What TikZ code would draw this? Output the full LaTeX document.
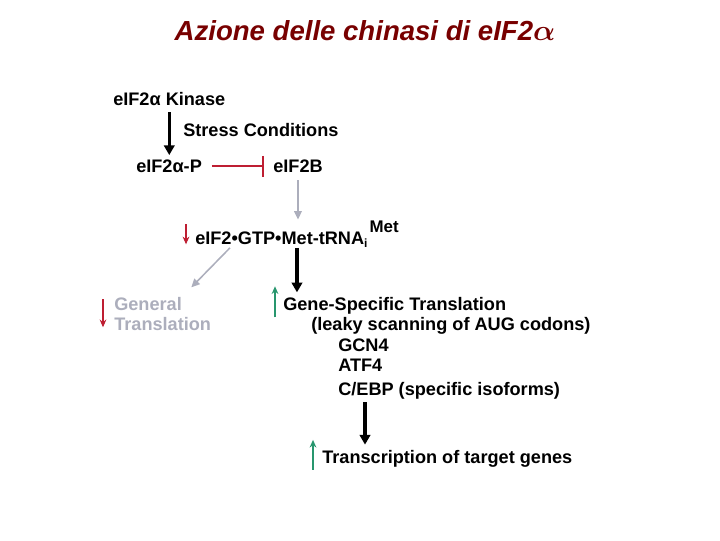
\documentclass[tikz,border=0pt]{standalone}
\usepackage{fontspec}
\setmainfont{Liberation Sans}
\definecolor{titlered}{RGB}{120,0,0}
\definecolor{downred}{RGB}{190,30,50}
\definecolor{upgreen}{RGB}{40,150,110}
\definecolor{fadegray}{RGB}{172,174,188}
\usetikzlibrary{arrows.meta,calc}

\begin{document}
\begin{tikzpicture}[x=0.025cm,y=-0.025cm,
  lbl/.style={anchor=base west,inner sep=0pt,align=left,
              font=\bfseries\fontsize{12.9}{14.2}\selectfont},
  mainarrow/.style={line width=2.2pt,-{Triangle[width=7.5pt,length=7pt]}},
  fadearrow/.style={draw=fadegray,line width=1.1pt,-{Triangle[width=5.5pt,length=6pt]}},
  inhibit/.style={draw=downred,line width=1.4pt,-{Bar[width=15pt]}},
  downind/.style={draw=downred,line width=0.8pt,-{Stealth[length=5.5pt,width=4.8pt]}},
  upind/.style={draw=upgreen,line width=0.8pt,-{Stealth[length=5.5pt,width=4.8pt]}}]
  \useasboundingbox (0,0) rectangle (720,540);
  % title
  \node[font=\bfseries\itshape\fontsize{19.6}{22}\selectfont,text=titlered,
        anchor=base] (title) at (365,40) {Azione delle chinasi di eIF2{\boldmath$\alpha$}};
  % labels
  \node[lbl] (kinase) at (113,105.6) {eIF2α Kinase};
  \node[lbl] (stress) at (183,136) {Stress Conditions};
  \node[lbl] (eif2p) at (136,172.7) {eIF2α-P};
  \node[lbl] (eif2b) at (273,172.7) {eIF2B};
  \node[lbl] (ternary) at (195,244)
        {eIF2•GTP•Met-tRNA{\fontsize{8.5}{9}\selectfont\raisebox{-2.5pt}{i}}\hspace{1.5pt}{\fontsize{12}{12}\selectfont\raisebox{8pt}{Met}}};
  \node[lbl,text=fadegray] (general) at (114,330.7) {General\\Translation};
  \node[lbl] (gst) at (283,310) {Gene-Specific Translation};
  \node[lbl] (leaky) at (311,330) {(leaky scanning of AUG codons)};
  \node[lbl] (gcn4) at (338,351.7) {GCN4};
  \node[lbl] (atf4) at (338,371.7) {ATF4};
  \node[lbl] (cebp) at (338,395) {C/EBP (specific isoforms)};
  \node[lbl] (trans) at (322,463) {Transcription of target genes};
  % connectors
  \draw[mainarrow,shorten <=4.3pt,shorten >=3.3pt] (kinase.south) -- (kinase.south |- eif2p.north);
  \draw[inhibit,shorten <=7pt,shorten >=6.4pt] (eif2p.east) -- (eif2b.west);
  \draw[fadearrow,shorten <=5pt,shorten >=1pt] (eif2b.south) -- (eif2b.south |- ternary.north);
  \draw[mainarrow,shorten >=3pt] (ternary.south) -- (ternary.south |- gst.north);
  \draw[fadearrow] ($(ternary.south west)+(35,0)$) -- ($(general.north east)+(-20,-10)$);
  \coordinate (cebptail) at ($(cebp.south west)+(27,3)$);
  \draw[mainarrow,shorten >=3.5pt] (cebptail) -- (cebptail |- trans.north);
  % up and down marks
  \draw[downind] ($(ternary.west)+(-9,-10)$) -- ++(0,20);
  \draw[downind] ($(general.west)+(-11,-15)$) -- ++(0,28);
  \draw[upind] ($(gst.west)+(-8,12)$) -- ++(0,-31);
  \draw[upind] ($(trans.west)+(-9,11.5)$) -- ++(0,-30);
\end{tikzpicture}
\end{document}
